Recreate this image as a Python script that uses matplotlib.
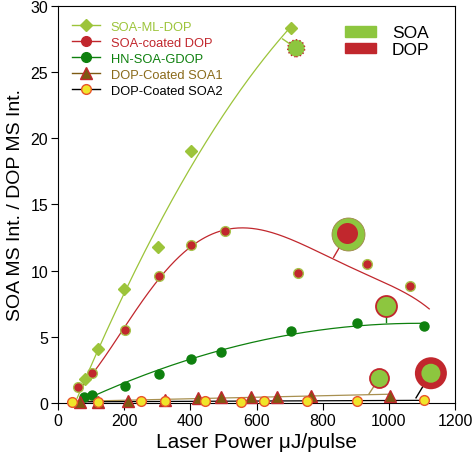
import numpy as np
import matplotlib
matplotlib.use('Agg')
import matplotlib.pyplot as plt
from matplotlib.lines import Line2D
from matplotlib.patches import Patch

plt.rcParams['font.family'] = ['Liberation Sans', 'DejaVu Sans']

# data
ml_x = [82, 120, 201, 302, 401, 704]
ml_y = [1.8, 4.1, 8.6, 11.8, 19.0, 28.3]

sc_x = [62, 102, 203, 304, 403, 504, 724, 934, 1064]
sc_y = [1.19, 2.24, 5.54, 9.62, 11.94, 12.98, 9.85, 10.5, 8.87]
# trend curve of SOA-coated DOP
sc_fit_x = [62, 102, 203, 304, 403, 504, 536, 673, 834, 1006, 1122]
sc_fit_y = [1.0, 2.2, 5.5, 9.6, 11.9, 13.0, 13.15, 12.5, 11.1, 8.7, 7.15]

hn_x = [80, 102, 203, 304, 403, 494, 704, 905, 1105]
hn_y = [0.43, 0.6, 1.31, 2.19, 3.33, 3.88, 5.42, 6.05, 5.8]

s1_x = [67, 120, 211, 322, 422, 493, 582, 663, 766, 1004]
s1_y = [0.1, 0.1, 0.17, 0.25, 0.38, 0.43, 0.48, 0.48, 0.55, 0.55]

s2_x = [41, 122, 252, 322, 443, 552, 622, 753, 905, 1105]
s2_y = [0.05, 0.1, 0.13, 0.17, 0.13, 0.05, 0.13, 0.13, 0.17, 0.23]

# composition circles: centre, anchor on curve
ind_x = [720, 875, 991, 971, 1127]
ind_y = [26.8, 12.8, 7.35, 1.87, 2.24]
anc_x = [679, 833, 991, 940, 1082]
anc_y = [27.5, 11.0, 6.1, 0.68, 0.38]

GREEN_L = '#8dc63f'
RED = '#c1272d'
DKGREEN = '#0e800e'
BROWN = '#7d5a12'
TAN = '#a89050'
YELLOW = '#f0e52a'
ORANGE = '#e8542a'

fig = plt.figure(figsize=(4.75, 4.6), dpi=100)
ax = fig.add_axes([0.122, 0.122, 0.836, 0.863])

# fit curves
xx = np.linspace(58, 704, 200)
ax.plot(xx, np.polyval(np.polyfit(ml_x, ml_y, 2), xx), color='#9cc43a', lw=0.9)
xx = np.linspace(62, 1122, 300)
ax.plot(xx, np.polyval(np.polyfit(sc_fit_x, sc_fit_y, 5), xx), color=RED, lw=0.9)
xx = np.linspace(102, 1105, 300)
ax.plot(xx, np.polyval(np.polyfit(hn_x, hn_y, 2), xx), color=DKGREEN, lw=0.9)
xx = np.linspace(41, 1004, 50)
ax.plot(xx, np.polyval(np.polyfit(s1_x, s1_y, 1), xx), color=TAN, lw=0.9)
xx = np.linspace(41, 1105, 50)
ax.plot(xx, np.polyval(np.polyfit(s2_x, s2_y, 1), xx), color='black', lw=0.9)

# points
ax.plot(ml_x, ml_y, 'D', color='#9cc43a', ms=6, mec='#9cc43a', zorder=4)
ax.plot(sc_x, sc_y, 'o', color=RED, ms=7, mec='#a8c24a', mew=1, zorder=4)
ax.plot(hn_x, hn_y, 'o', color=DKGREEN, ms=6.5, mec=DKGREEN, zorder=4)
ax.plot(s1_x, s1_y, '^', color=BROWN, ms=9, mec=RED, mew=1, zorder=5, clip_on=False)
ax.plot(s2_x, s2_y, 'o', color=YELLOW, ms=7, mec=ORANGE, mew=1, zorder=6, clip_on=False)

# connectors
con_cols = ['#9cc43a', RED, DKGREEN, TAN, 'black']
for i in range(5):
    ax.plot([ind_x[i], anc_x[i]], [ind_y[i], anc_y[i]], color=con_cols[i], lw=1, zorder=3)

# composition circles (px diameter * 0.72 -> pt)
ax.scatter(ind_x[0], ind_y[0], s=(17 * 0.72) ** 2, c=GREEN_L, edgecolors=RED,
           linewidths=1, linestyle=':', zorder=7)
ax.scatter(ind_x[1], ind_y[1], s=(33 * 0.72) ** 2, c=GREEN_L, edgecolors='#a0864a', linewidths=0.6, zorder=7)
ax.scatter(ind_x[1], ind_y[1], s=(21 * 0.72) ** 2, c=RED, edgecolors='none', zorder=8)
ax.scatter(ind_x[2], ind_y[2], s=(21 * 0.72) ** 2, c=GREEN_L, edgecolors=RED, linewidths=1.3, zorder=7)
ax.scatter(ind_x[3], ind_y[3], s=(19 * 0.72) ** 2, c=GREEN_L, edgecolors=RED, linewidths=1.3, zorder=7)
ax.scatter(ind_x[4], ind_y[4], s=(32 * 0.72) ** 2, c=RED, edgecolors='none', zorder=7)
ax.scatter(ind_x[4], ind_y[4], s=(19 * 0.72) ** 2, c=GREEN_L, edgecolors='none', zorder=8)

ax.set_xlim(0, 1200)
ax.set_ylim(0, 30)
ax.set_xticks(range(0, 1201, 200))
ax.set_yticks(range(0, 31, 5))
ax.tick_params(direction='out', length=5, width=0.8, labelsize=11.5, pad=2)
for sp in ax.spines.values():
    sp.set_linewidth(0.8)
ax.set_xlabel('Laser Power \u03bcJ/pulse', fontsize=15, labelpad=3)
ax.set_ylabel('SOA MS Int. / DOP MS Int.', fontsize=14, labelpad=5)

# series legend
handles = [
    Line2D([], [], color='#9cc43a', marker='D', ms=6, lw=1),
    Line2D([], [], color=RED, marker='o', ms=7, mec=RED, lw=1),
    Line2D([], [], color=DKGREEN, marker='o', ms=7, lw=1),
    Line2D([], [], color=BROWN, marker='^', ms=9, mec=RED, lw=1),
    Line2D([], [], color='black', marker='o', ms=7, mfc=YELLOW, mec=ORANGE, lw=1),
]
labels = ['SOA-ML-DOP', 'SOA-coated DOP', 'HN-SOA-GDOP', 'DOP-Coated SOA1', 'DOP-Coated SOA2']
leg = ax.legend(handles, labels, loc='upper left', bbox_to_anchor=(0.012, 0.985), frameon=False,
                fontsize=9.3, handlelength=2.2, handletextpad=0.8, labelspacing=0.3, borderaxespad=0.3)
for t, c in zip(leg.get_texts(), ['#9cc43a', RED, DKGREEN, '#8a6a1a', 'black']):
    t.set_color(c)
ax.add_artist(leg)

leg2 = ax.legend([Patch(color=GREEN_L), Patch(color=RED)], ['SOA', 'DOP'], loc='upper right',
                 bbox_to_anchor=(0.975, 0.99), frameon=False, fontsize=12.5, handlelength=1.8,
                 handleheight=0.55, handletextpad=0.9, labelspacing=0.1)

fig.savefig('out.png', dpi=100)
